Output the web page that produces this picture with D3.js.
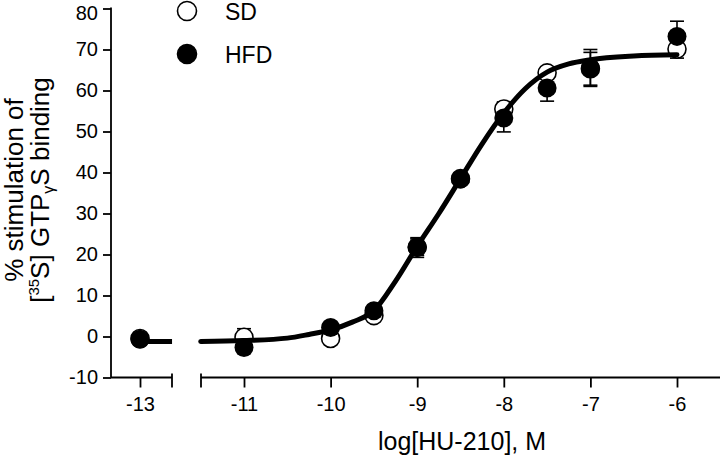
<!DOCTYPE html>
<html><head><meta charset="utf-8">
<script src="https://cdn.jsdelivr.net/npm/d3@7"></script>
<style>
html,body{margin:0;padding:0;background:#fff;}
svg{display:block;font-family:"Liberation Sans",Arial,sans-serif;}
</style></head>
<body><svg id="c" width="720" height="455"></svg>
<script>
// ---- data ----
const logDose = [-13, -11, -10, -9.5, -9, -8.5, -8, -7.5, -7, -6];
const sdMean  = [-0.5, -0.2, -0.5, 5.1, 21.8, 38.5, 55.5, 64.3, 65.3, 70.1];
const sdErr   = [1, 2.1, 1, 1, 2, 1, 1.7, 1, 4, 2.2];
const hfdMean = [-0.7, -2.7, 2.2, 6.3, 21.7, 38.4, 53.3, 60.6, 65.5, 73.2];
const hfdErr  = [1, 1, 1, 1, 2.4, 1, 3.4, 3.2, 4.5, 3.7];
// fitted curve
const fitX = [-11.5, -11, -10.5, -10.25, -10, -9.75, -9.5, -9.25, -9, -8.75, -8.5, -8.25, -8, -7.75, -7.5, -7.25, -7, -6.5, -6];
const fitY = [-1.2, -1.0, -0.4, 0.5, 1.6, 3.5, 6.3, 13.5, 22, 30, 38.5, 47, 54.5, 60.5, 64.5, 66.5, 67.5, 68.4, 68.7];
const leftFitX = [-13, -12.63];
const leftFitY = [-1.2, -1.2];
const yTicks = [-10, 0, 10, 20, 30, 40, 50, 60, 70, 80];
const xTicksLeft = [-13];
const xTicksRight = [-11, -10, -9, -8, -7, -6];
const seriesNames = ["SD", "HFD"];

const svg = d3.select("#c");
const y = d3.scaleLinear().domain([-10, 80]).range([377.5, 8.5]);
const xL = d3.scaleLinear().domain([-13, -12]).range([140, 226.6]);
const xR = d3.scaleLinear().domain([-11, -6]).range([244, 677]);
const xOf = v => v < -12 ? xL(v) : xR(v);
const axisY = 377.5;
const fmt = d => String(d);

// y axis
const gy = svg.append("g").attr("transform", "translate(111,0)")
  .call(d3.axisLeft(y).tickValues(yTicks).tickFormat(fmt).tickSize(8).tickPadding(5).tickSizeOuter(0));
gy.select(".domain").attr("stroke-width", 1.8).attr("d", `M0,${y(80)-1}V${axisY}`);
gy.selectAll(".tick line").attr("stroke-width", 1.8);
gy.selectAll("text").attr("font-size", 20).attr("fill", "#000").attr("font-family", "Liberation Sans, Arial, sans-serif");
gy.selectAll(".tick").filter(d => d === 80).select("text").attr("dy", "0.55em");

// x axis, left piece
const gxL = svg.append("g").attr("transform", `translate(0,${axisY})`)
  .call(d3.axisBottom(xL).tickValues(xTicksLeft).tickFormat(fmt).tickSize(10).tickPadding(9).tickSizeOuter(0));
gxL.select(".domain").attr("stroke-width", 1.8).attr("d", "M111,0H172");
// x axis, right piece
const gxR = svg.append("g").attr("transform", `translate(0,${axisY})`)
  .call(d3.axisBottom(xR).tickValues(xTicksRight).tickFormat(fmt).tickSize(10).tickPadding(9).tickSizeOuter(0));
gxR.select(".domain").attr("stroke-width", 1.8).attr("d", "M201,0H720");
[gxL, gxR].forEach(g => {
  g.selectAll(".tick line").attr("stroke-width", 1.8);
  g.selectAll("text").attr("font-size", 20).attr("fill", "#000").attr("font-family", "Liberation Sans, Arial, sans-serif");
});
// break marks
[172, 201].forEach(px => {
  svg.append("line").attr("x1", px).attr("x2", px).attr("y1", axisY - 4).attr("y2", axisY + 10)
    .attr("stroke", "#000").attr("stroke-width", 1.8);
});

// axis titles
svg.append("text").attr("x", 462).attr("y", 450).attr("text-anchor", "middle")
  .attr("font-size", 25).text("log[HU-210], M");
const yt = svg.append("g").attr("transform", "translate(0,190) rotate(-90)");
yt.append("text").attr("x", 0).attr("y", 23).attr("text-anchor", "middle").attr("font-size", 26)
  .text("% stimulation of");
const t2 = yt.append("text").attr("x", 0).attr("y", 49).attr("text-anchor", "middle").attr("font-size", 26);
t2.append("tspan").text("[");
t2.append("tspan").attr("font-size", 15).attr("dy", -10).text("35");
t2.append("tspan").attr("dy", 10).text("S] GTP");
t2.append("tspan").attr("font-size", 16).attr("dy", 5).text("γ");
t2.append("tspan").attr("dy", -5).text("S binding");

// error bars
function errBars(mean, err) {
  const g = svg.append("g").attr("stroke", "#000").attr("stroke-width", 1.6);
  logDose.forEach((d, i) => {
    const cx = xOf(d), y1 = y(mean[i] - err[i]), y2 = y(mean[i] + err[i]);
    g.append("line").attr("x1", cx).attr("x2", cx).attr("y1", y1).attr("y2", y2);
    g.append("line").attr("x1", cx - 7).attr("x2", cx + 7).attr("y1", y1).attr("y2", y1);
    g.append("line").attr("x1", cx - 7).attr("x2", cx + 7).attr("y1", y2).attr("y2", y2);
  });
}
errBars(sdMean, sdErr);
errBars(hfdMean, hfdErr);

// markers
svg.append("g").selectAll("circle").data(logDose).join("circle")
  .attr("cx", d => xOf(d)).attr("cy", (d, i) => y(sdMean[i])).attr("r", 9)
  .attr("fill", "#fff").attr("stroke", "#000").attr("stroke-width", 1.6);
svg.append("g").selectAll("circle").data(logDose).join("circle")
  .attr("cx", d => xOf(d)).attr("cy", (d, i) => y(hfdMean[i])).attr("r", 9.5)
  .attr("fill", "#000");

// fitted curves
const line = d3.line().x(d => d[0]).y(d => d[1]).curve(d3.curveMonotoneX);
svg.append("path").attr("d", line(fitX.map((v, i) => [xR(v), y(fitY[i])])))
  .attr("fill", "none").attr("stroke", "#000").attr("stroke-width", 5).attr("stroke-linecap", "round");
svg.append("path").attr("d", line(leftFitX.map((v, i) => [xL(v), y(leftFitY[i])])))
  .attr("fill", "none").attr("stroke", "#000").attr("stroke-width", 5);

// legend
const leg = svg.append("g");
seriesNames.forEach((n, i) => {
  const cy = 11 + i * 43;
  leg.append("circle").attr("cx", 187).attr("cy", cy).attr("r", 9.5)
    .attr("fill", i === 0 ? "#fff" : "#000").attr("stroke", "#000").attr("stroke-width", 1.6);
  leg.append("text").attr("x", 225).attr("y", cy + 8.5).attr("font-size", 23).text(n);
});
</script></body></html>
